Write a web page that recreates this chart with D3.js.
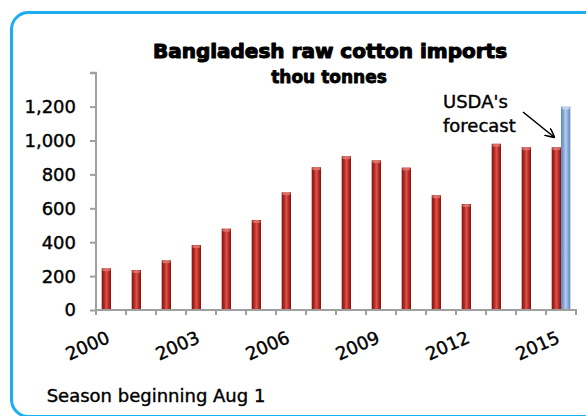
<!DOCTYPE html>
<html>
<head>
<meta charset="utf-8">
<script src="https://cdn.jsdelivr.net/npm/d3@7"></script>
<style>
  html, body { margin: 0; padding: 0; background: #fff; }
  svg { display: block; }
</style>
</head>
<body>
<svg id="chart" width="586" height="416"></svg>
<script>
const years = ["2000","2001","2002","2003","2004","2005","2006","2007","2008","2009","2010","2011","2012","2013","2014","2015"];
const actual = [246, 236, 293, 383, 480, 531, 694, 842, 907, 883, 840, 677, 625, 981, 960, 960];
const forecast = [null, null, null, null, null, null, null, null, null, null, null, null, null, null, null, 1200];
const seriesNames = ["actual", "forecast"];
const yTicks = [0, 200, 400, 600, 800, 1000, 1200, 1400];
const yLabelTicks = [0, 200, 400, 600, 800, 1000, 1200];
const xLabelYears = ["2000","2003","2006","2009","2012","2015"];
const titleText = "Bangladesh raw cotton imports";
const subtitleText = "thou tonnes";
const noteText = "Season beginning Aug 1";
const annotationLines = ["USDA's", "forecast"];

const svg = d3.select("#chart");
const font = "'DejaVu Sans', sans-serif";

// frame
svg.append("rect")
  .attr("x", 11.5).attr("y", 12.5)
  .attr("width", 620).attr("height", 404)
  .attr("rx", 17).attr("ry", 17)
  .attr("fill", "#fff")
  .attr("stroke", "#1aaff0").attr("stroke-width", 3);

// gradients
const defs = svg.append("defs");
function cyl(id, dark, mid, light) {
  const g = defs.append("linearGradient").attr("id", id)
    .attr("x1", "0%").attr("x2", "100%").attr("y1", "0%").attr("y2", "0%");
  [[0, dark], [0.3, mid], [0.5, light], [0.75, mid], [1, dark]].forEach(([o, c]) =>
    g.append("stop").attr("offset", o).attr("stop-color", c));
}
cyl("gradRed", "#7e1512", "#b92a24", "#d9554c");
cyl("gradBlue", "#5b85bd", "#88abd9", "#b3cbea");

const x = d3.scaleBand().domain(years).range([96, 576]).paddingInner(0).paddingOuter(0);
const x1 = d3.scaleBand().domain(seriesNames).range([0, x.bandwidth()]).paddingInner(0).paddingOuter(0.61);
const y = d3.scaleLinear().domain([0, 1400]).range([310, 72.7]);

// y axis
const yAxis = d3.axisLeft(y).tickValues(yTicks).tickSize(6).tickFormat("");
const gy = svg.append("g").attr("transform", "translate(96,0)").call(yAxis);
gy.selectAll("path, line").attr("stroke", "#a0a0a0").attr("stroke-width", 2);
gy.select(".domain").attr("d", `M-6,${y(1400)}H0V${y(0)}`);

svg.append("g").selectAll("text").data(yLabelTicks).join("text")
  .attr("x", 76).attr("y", d => y(d)).attr("dy", "0.36em")
  .attr("text-anchor", "end")
  .attr("font-family", font).attr("font-size", 18).attr("fill", "#000")
  .attr("stroke", "#000").attr("stroke-width", 0.4)
  .text(d => d3.format(",")(d));

// bars
const barData = [];
years.forEach((yr, i) => {
  if (actual[i] != null) barData.push({ yr, s: "actual", v: actual[i] });
  if (forecast[i] != null) barData.push({ yr, s: "forecast", v: forecast[i] });
});
svg.append("g").selectAll("rect").data(barData).join("rect")
  .attr("x", d => x(d.yr) + x1(d.s))
  .attr("width", x1.bandwidth())
  .attr("y", d => y(d.v))
  .attr("height", d => y(0) - y(d.v))
  .attr("fill", d => d.s === "actual" ? "url(#gradRed)" : "url(#gradBlue)");

// bar top caps
svg.append("g").selectAll("ellipse").data(barData).join("ellipse")
  .attr("cx", d => x(d.yr) + x1(d.s) + x1.bandwidth() / 2)
  .attr("cy", d => y(d.v) + 1.5)
  .attr("rx", x1.bandwidth() / 2 - 0.5)
  .attr("ry", 1.5)
  .attr("fill", d => d.s === "actual" ? "#e07a72" : "#c8daf0")
  .attr("opacity", 0.8);

// x axis
const xAxis = d3.axisBottom(x).tickSize(0).tickFormat("");
const gx = svg.append("g").attr("transform", `translate(0,${y(0)})`).call(xAxis);
gx.select(".domain").attr("stroke", "#a0a0a0").attr("stroke-width", 2).attr("d", "M96,0H577");
svg.append("g").selectAll("line").data(years.concat(["end"])).join("line")
  .attr("x1", (d, i) => x.range()[0] + i * x.step())
  .attr("x2", (d, i) => x.range()[0] + i * x.step())
  .attr("y1", y(0)).attr("y2", y(0) + 5)
  .attr("stroke", "#a0a0a0").attr("stroke-width", 2);

svg.append("g").selectAll("text").data(xLabelYears).join("text")
  .attr("transform", d => `translate(${x(d) + x.bandwidth() / 2},342) rotate(-24)`)
  .attr("text-anchor", "end")
  .attr("font-family", font).attr("font-size", 18).attr("fill", "#000")
  .attr("stroke", "#000").attr("stroke-width", 0.4)
  .text(d => d);

// titles
svg.append("text").attr("x", 330).attr("y", 57.7).attr("text-anchor", "middle")
  .attr("font-family", font).attr("font-weight", "bold").attr("font-size", 20)
  .attr("fill", "#000").attr("stroke", "#000").attr("stroke-width", 1.1)
  .attr("stroke-linejoin", "round")
  .text(titleText);
svg.append("text").attr("x", 329).attr("y", 83.3).attr("text-anchor", "middle")
  .attr("font-family", font).attr("font-weight", "bold").attr("font-size", 17)
  .attr("fill", "#000").attr("stroke", "#000").attr("stroke-width", 0.8)
  .attr("stroke-linejoin", "round")
  .text(subtitleText);

// annotation
svg.append("g").selectAll("text").data(annotationLines).join("text")
  .attr("x", 443).attr("y", (d, i) => 107.7 + i * 24)
  .attr("font-family", font).attr("font-size", 18).attr("fill", "#000")
  .attr("stroke", "#000").attr("stroke-width", 0.4)
  .text(d => d);
defs.append("marker").attr("id", "arrow").attr("viewBox", "0 0 10 10")
  .attr("refX", 9).attr("refY", 5).attr("markerWidth", 6).attr("markerHeight", 6)
  .attr("orient", "auto")
  .append("path").attr("d", "M0,0L10,5L0,10").attr("fill", "none").attr("stroke", "#000").attr("stroke-width", 1.6);
svg.append("line").attr("x1", 523).attr("y1", 112).attr("x2", 554).attr("y2", 137)
  .attr("stroke", "#000").attr("stroke-width", 1.6).attr("marker-end", "url(#arrow)");

// note
svg.append("text").attr("x", 46.7).attr("y", 401.7)
  .attr("font-family", font).attr("font-size", 18).attr("fill", "#000")
  .attr("stroke", "#000").attr("stroke-width", 0.4)
  .text(noteText);
</script>
</body>
</html>
